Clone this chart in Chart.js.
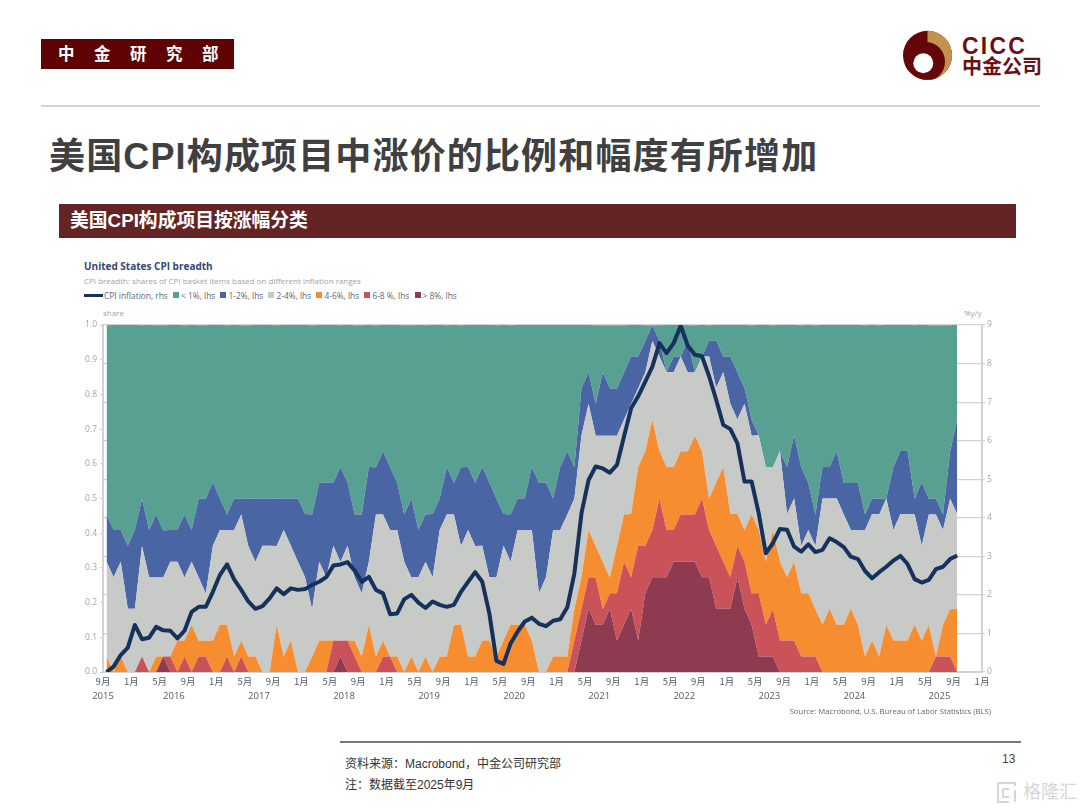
<!DOCTYPE html>
<html lang="zh">
<head>
<meta charset="utf-8">
<title>美国CPI构成项目按涨幅分类</title>
<script src="https://cdn.jsdelivr.net/npm/chart.js@4"></script>
<style>
    html, body { margin: 0; padding: 0; background: #fff; }
    body { position: relative; width: 1080px; height: 810px; overflow: hidden; font-family: "Liberation Sans", "Noto Sans CJK SC", sans-serif; }
    .abs { position: absolute; white-space: nowrap; line-height: 1; }
    #tag { left: 41px; top: 39px; width: 193px; height: 30px; background: #5e0203; color: #fff; font-weight: bold; font-size: 16.5px; line-height: 30px; text-indent: 17px; letter-spacing: 19.5px; }
    #rule-top { left: 41px; top: 105px; width: 999px; height: 2px; background: #d4d4d4; }
    #headline { left: 49px; top: 139px; font-size: 36px; font-weight: bold; color: #404040; letter-spacing: 1.15px; }
    #banner { left: 59px; top: 204px; width: 957px; height: 34px; background: #642423; color: #fff; font-weight: bold; font-size: 18.8px; line-height: 34px; text-indent: 11px; }
    #c-title { left: 84px; top: 259px; font: bold 10px "Open Sans", sans-serif; color: #33496f; }
    #c-sub { left: 84px; top: 275px; font: 8px "Open Sans", sans-serif; color: #a2a2a2; }
    #legend { left: 84px; top: 290px; display: flex; align-items: center; font: 8.4px "Open Sans", sans-serif; color: #606878; height: 10px; }
    #legend i { display: inline-block; width: 6px; height: 6px; margin-right: 2px; }
    #legend i.line { width: 19px; height: 3px; margin-right: 1px; }
    #legend span { margin-right: 5.2px; }
    #lbl-share { left: 103px; top: 307px; font: 8px "Open Sans", sans-serif; color: #a2a2a2; }
    #lbl-pct { left: 964px; top: 307px; font: 8px "Open Sans", sans-serif; color: #a2a2a2; }
    #source { right: 89px; top: 706px; font: 7.7px "Open Sans", sans-serif; color: #666; }
    #rule-foot { left: 340px; top: 741px; width: 681px; height: 2px; background: #777; }
    #note1 { left: 345px; top: 758px; font-size: 12px; color: #333; }
    #note2 { left: 345px; top: 779px; font-size: 12px; color: #333; }
    #page-no { left: 1002px; top: 753px; font-size: 12px; color: #444; }
    #mark { left: 1023px; top: 783px; font-size: 18px; color: #d6d6d6; }
    #chart-box { position: absolute; left: 70px; top: 300px; width: 930px; height: 420px; }
</style>
</head>
<body>
<div class="abs" id="tag">中金研究部</div>
<svg class="abs" style="left:895px;top:25px" width="150" height="60" viewBox="895 25 150 60">
    <defs><clipPath id="disc"><circle cx="927.5" cy="55.3" r="24.5"/></clipPath></defs>
    <circle cx="927.5" cy="55.3" r="24.5" fill="#650608"/>
    <rect x="927.5" y="30" width="26" height="52" fill="#c2934f" clip-path="url(#disc)"/>
    <circle cx="925" cy="61.7" r="20" fill="#650608" clip-path="url(#disc)"/>
    <circle cx="923.3" cy="63.3" r="10" fill="#fff"/>
    <text x="962" y="54" font-family="Liberation Sans" font-weight="bold" font-size="23" letter-spacing="2.2" fill="#6b1014">CICC</text>
    <text x="962" y="74" font-family="Noto Sans CJK SC" font-weight="bold" font-size="20" fill="#6b1014">中金公司</text>
</svg>
<div class="abs" id="rule-top"></div>
<div class="abs" id="headline">美国CPI构成项目中涨价的比例和幅度有所增加</div>
<div class="abs" id="banner">美国CPI构成项目按涨幅分类</div>
<div class="abs" id="c-title">United States CPI breadth</div>
<div class="abs" id="c-sub">CPI breadth: shares of CPI basket items based on different inflation ranges</div>
<div class="abs" id="legend"></div>
<div class="abs" id="lbl-share">share</div>
<div class="abs" id="lbl-pct">%y/y</div>
<div id="chart-box"><canvas id="breadth" width="930" height="420"></canvas></div>
<div class="abs" id="source">Source: Macrobond, U.S. Bureau of Labor Statistics (BLS)</div>
<div class="abs" id="rule-foot"></div>
<div class="abs" id="note1">资料来源：Macrobond，中金公司研究部</div>
<div class="abs" id="note2">注：数据截至2025年9月</div>
<div class="abs" id="page-no">13</div>
<svg class="abs" style="left:995px;top:781px" width="24" height="24" viewBox="0 0 24 24" fill="none" stroke="#d6d6d6" stroke-width="2">
    <path d="M20 5 V2 H3 V21 H14"/><path d="M8 8 H14 M8 8 V16 H14 M20 9 V21"/>
</svg>
<div class="abs" id="mark">格隆汇</div>

<script>
// monthly, Sep 2015 .. Sep 2025
const cpiInflation = [
    0,.14,.44,.63,1.22,.85,.89,1.17,1.08,1.07,.87,1.07,1.56,1.69,1.69,2.08,2.52,2.79,2.4,2.13,
    1.83,1.64,1.71,1.91,2.17,2.02,2.17,2.13,2.15,2.26,2.34,2.46,2.76,2.79,2.85,2.63,2.34,2.47,2.13,2.04,
    1.5,1.52,1.89,2.0,1.8,1.66,1.83,1.74,1.69,1.74,2.08,2.34,2.59,2.34,1.52,.29,.21,.74,1.05,1.31,
    1.41,1.25,1.19,1.33,1.37,1.68,2.56,4.12,4.98,5.33,5.28,5.17,5.37,6.11,6.84,7.15,7.53,7.92,8.53,8.27,
    8.53,8.98,8.46,8.23,8.19,7.67,7.06,6.41,6.3,5.93,4.94,4.94,4.12,3.08,3.34,3.71,3.69,3.25,3.12,3.31,
    3.11,3.17,3.47,3.37,3.24,2.99,2.93,2.62,2.43,2.59,2.73,2.89,3.01,2.8,2.41,2.32,2.39,2.67,2.73,2.93,
    3.02
];
const shareUnder1 = [
    .545,.591,.591,.636,.591,.5,.591,.545,.591,.591,
    .591,.545,.591,.5,.5,.455,.5,.545,.5,.5,
    .5,.5,.5,.5,.5,.5,.5,.5,.545,.545,
    .455,.455,.455,.409,.455,.545,.545,.409,.409,.364,
    .409,.455,.545,.5,.591,.545,.545,.5,.409,.455,
    .409,.409,.455,.409,.455,.5,.545,.545,.5,.5,
    .409,.455,.455,.5,.409,.364,.409,.182,.136,.227,
    .136,.182,.182,.136,.091,.091,.045,0,.045,.136,
    .091,.091,.045,.136,.091,.045,.045,.091,.091,.136,
    .182,.273,.318,.409,.409,.364,.409,.318,.409,.455,
    .545,.409,.409,.364,.455,.455,.455,.545,.5,.5,
    .5,.409,.364,.364,.5,.455,.5,.5,.545,.364,
    .273
];
const share1to2 = [
    .136,.136,.091,.182,.227,.136,.136,.182,.136,.091,
    .091,.182,.091,.227,.273,.182,.091,.045,.091,.045,
    .136,.182,.136,.136,.136,.091,.136,.182,.182,.273,
    .227,.273,.182,.273,.182,.182,.227,.273,.136,.182,
    .182,.136,.136,.227,.136,.136,.182,.091,.136,.091,
    .227,.182,.182,.227,.273,.227,.091,.136,.091,.091,
    .182,.318,.273,.091,.182,.182,.091,.136,.091,.091,
    .182,.136,.136,.136,.136,.091,.091,.045,.045,0,
    .045,0,.091,0,0,.045,.136,.045,.136,.136,
    .045,.045,0,0,0,0,.136,.182,.227,.136,
    .091,.091,.091,.136,.091,.136,.136,.045,.045,.045,
    0,.182,.182,.182,.045,.182,.045,.045,.045,.136,
    .273
];
const share2to4 = [
    .273,.273,.273,.182,.182,.318,.273,.227,.227,.273,
    .227,.182,.182,.182,.136,.273,.273,.273,.364,.364,
    .318,.273,.364,.364,.227,.364,.273,.318,.273,.136,
    .227,.182,.273,.227,.273,.182,.182,.182,.409,.364,
    .364,.364,.318,.227,.273,.273,.273,.364,.409,.318,
    .227,.364,.318,.273,.182,.227,.273,.182,.273,.273,
    .318,.227,.273,.364,.364,.409,.318,.409,.364,.318,
    .364,.409,.318,.273,.318,.227,.227,.227,.273,.273,
    .273,.273,.227,.182,.273,.409,.273,.273,.318,.273,
    .364,.227,.273,.273,.182,.318,.182,.182,.136,.182,
    .182,.364,.318,.364,.318,.227,.273,.364,.364,.409,
    .364,.318,.364,.364,.318,.273,.318,.409,.273,.318,
    .273
];
const share4to6 = [
    .045,0,.045,0,0,0,0,.045,0,0,
    .091,.045,.136,.045,.045,.091,.136,.091,.045,.045,
    .045,.045,0,0,.136,.045,.091,0,0,.045,
    .091,.091,0,0,0,.045,.045,.136,.045,.045,
    0,.045,0,.045,0,.045,0,.045,.045,.136,
    .136,.045,.045,.091,.091,.045,.091,.136,.136,.136,
    .091,0,0,.045,.045,.045,.091,.091,.136,.091,
    .136,.045,.136,.136,.182,.227,.273,.318,.136,.182,
    .182,.182,.182,.227,.136,.091,.182,.273,.182,.091,
    .091,.227,.182,.182,.227,.227,.182,.227,.182,.182,
    .136,.136,.182,.136,.136,.182,.136,.045,.091,.045,
    .136,.091,.091,.091,.136,.091,.136,0,.091,.136,
    .182
];
const share6to8 = [
    0,0,0,0,0,.045,0,0,0,.045,
    0,.045,0,.045,.045,0,0,.045,0,.045,
    0,0,0,0,0,0,0,0,0,0,
    0,0,.091,.045,.091,.045,0,0,0,.045,
    .045,0,0,0,0,0,0,0,0,0,
    0,0,0,0,0,0,0,0,0,0,
    0,0,0,0,0,0,.091,.091,.091,.136,
    .045,.045,.136,.182,.091,.273,.136,.136,.227,.136,
    .091,.136,.136,.136,.227,.136,.182,.136,.091,.091,
    .136,.091,.182,.091,.136,.091,.091,.091,.045,.045,
    .045,0,0,0,0,0,0,0,0,0,
    0,0,0,0,0,0,0,.045,.045,.045,
    0
];
const shareOver8 = [
    0,0,0,0,0,0,0,0,.045,0,
    0,0,0,0,0,0,0,0,0,0,
    0,0,0,0,0,0,0,0,0,0,
    0,0,0,.045,0,0,0,0,0,0,
    0,0,0,0,0,0,0,0,0,0,
    0,0,0,0,0,0,0,0,0,0,
    0,0,0,0,0,0,0,.091,.182,.136,
    .136,.182,.091,.136,.182,.091,.227,.273,.273,.273,
    .318,.318,.318,.318,.273,.273,.182,.182,.182,.273,
    .182,.136,.045,.045,.045,0,0,0,0,0,
    0,0,0,0,0,0,0,0,0,0,
    0,0,0,0,0,0,0,0,0,0,
    0
];
const monthNames = ['9月', '1月', '5月'];
const yearLabels = ['2015','2016','2017','2018','2019','2020','2021','2022','2023','2024','2025'];
const seriesNames = ['CPI inflation, rhs', '< 1%, lhs', '1-2%, lhs', '2-4%, lhs', '4-6%, lhs', '6-8 %, lhs', '> 8%, lhs'];

const colors = { cpi: '#16325c', under1: '#58a192', r12: '#4a65a3', r24: '#c8cac7', r46: '#f68d30', r68: '#ca535a', over8: '#8e3b52' };
const axisGray = '#d2d2d2';
const tickGray = '#a6a6a6';
const MONTHS_SHOWN = 124; // Sep 2015 .. Jan 2026

// Macrobond puts monthly points mid-month, so half a slot in from the tick
function toPoints(values) {
    return values.map((v, i) => ({ x: i + 0.5, y: v }));
}

function band(label, values, color, fill) {
    return {
        label: label,
        data: toPoints(values),
        yAxisID: 'y',
        backgroundColor: color,
        borderColor: color,
        borderWidth: 0,
        pointRadius: 0,
        tension: 0,
        fill: fill
    };
}

// legend is plain html, swatch widths differ between line and squares
const legendColors = [colors.cpi, colors.under1, colors.r12, colors.r24, colors.r46, colors.r68, colors.over8];
const legendEl = document.getElementById('legend');
seriesNames.forEach((name, i) => {
    const swatch = document.createElement('i');
    swatch.style.background = legendColors[i];
    if (i === 0) swatch.className = 'line';
    const text = document.createElement('span');
    text.textContent = name;
    legendEl.appendChild(swatch);
    legendEl.appendChild(text);
});

new Chart(document.getElementById('breadth').getContext('2d'), {
    type: 'line',
    data: {
        datasets: [
            {
                label: seriesNames[0],
                data: toPoints(cpiInflation),
                yAxisID: 'y1',
                borderColor: colors.cpi,
                backgroundColor: colors.cpi,
                borderWidth: 4,
                borderJoinStyle: 'round',
                pointRadius: 0,
                tension: 0,
                fill: false
            },
            band(seriesNames[6], shareOver8, colors.over8, 'origin'),
            band(seriesNames[5], share6to8, colors.r68, '-1'),
            band(seriesNames[4], share4to6, colors.r46, '-1'),
            band(seriesNames[3], share2to4, colors.r24, '-1'),
            band(seriesNames[2], share1to2, colors.r12, '-1'),
            band(seriesNames[1], shareUnder1, colors.under1, '-1')
        ]
    },
    options: {
        responsive: false,
        animation: false,
        layout: { padding: { top: 25, left: 0, right: 0, bottom: 0 } },
        plugins: { legend: { display: false }, title: { display: false }, tooltip: { enabled: false } },
        scales: {
            x: {
                type: 'linear',
                position: 'bottom',
                weight: 1,
                min: 0,
                max: MONTHS_SHOWN,
                afterFit: (s) => { s.height = 17; },
                afterBuildTicks: (s) => {
                    const ticks = [];
                    for (let m = 0; m <= MONTHS_SHOWN; m += 4) ticks.push({ value: m });
                    s.ticks = ticks;
                },
                grid: { display: false, drawTicks: false },
                border: { color: axisGray, width: 2 },
                ticks: {
                    autoSkip: false,
                    maxRotation: 0,
                    padding: 4,
                    color: '#555a66',
                    font: { size: 9.5, family: '"Noto Sans CJK SC"' },
                    callback: (v) => monthNames[(v / 4) % 3]
                }
            },
            xYears: {
                type: 'linear',
                position: 'bottom',
                weight: 2,
                min: 0,
                max: MONTHS_SHOWN,
                afterFit: (s) => { s.height = 31; },
                afterBuildTicks: (s) => {
                    // year label sits at mid year, 2015 is pinned to the axis start
                    s.ticks = yearLabels.map((y, i) => ({ value: i === 0 ? 0 : 10 + (i - 1) * 12 }));
                },
                grid: { display: false, drawTicks: false },
                border: { display: false },
                ticks: {
                    autoSkip: false,
                    maxRotation: 0,
                    padding: 2,
                    color: '#555a66',
                    font: { size: 9.5, family: '"Open Sans"' },
                    callback: (v, i) => yearLabels[i]
                }
            },
            y: {
                stacked: true,
                position: 'left',
                min: 0,
                max: 1,
                afterFit: (s) => { s.width = 33; },
                grid: { drawOnChartArea: false, color: axisGray, tickLength: 3 },
                border: { color: axisGray, width: 2 },
                ticks: {
                    stepSize: 0.1,
                    padding: 3,
                    color: tickGray,
                    font: { size: 8.5, family: '"Open Sans"' },
                    callback: (v) => v.toFixed(1)
                }
            },
            y1: {
                position: 'right',
                min: 0,
                max: 9,
                afterFit: (s) => { s.width = 18; },
                grid: { color: axisGray, lineWidth: 1.2, tickLength: 3 },
                border: { color: axisGray, width: 2 },
                ticks: {
                    stepSize: 1,
                    padding: 2,
                    color: tickGray,
                    font: { size: 8.5, family: '"Open Sans"' }
                }
            }
        }
    }
});
</script>
</body>
</html>
